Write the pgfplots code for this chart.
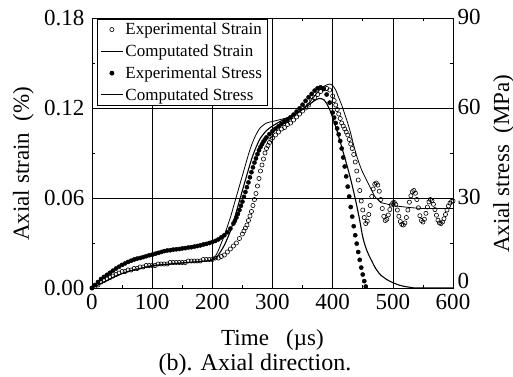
\documentclass[border=0pt]{standalone}
\usepackage{pgfplots}
\pgfplotsset{compat=1.18}
\usepackage{fontspec}
\setmainfont{Liberation Serif}

\begin{document}
\begin{tikzpicture}
\useasboundingbox (-92pt,-88pt) rectangle (421pt,288pt);
\begin{axis}[
  at={(0pt,0pt)}, anchor=south west,
  width=361pt, height=270pt, scale only axis,
  xmin=0, xmax=600, ymin=0, ymax=0.18,
  xtick={0,100,...,600}, ytick={0,0.06,0.12,0.18},
  minor x tick num=1, minor y tick num=1,
  tick align=inside,
  yticklabel pos=left,
  major tick length=5pt, minor tick length=3pt,
  grid=major, major grid style={black, line width=0.5pt},
  axis line style={line width=0.8pt},
  every tick/.style={black, line width=0.6pt},
  /pgf/number format/assume math mode=true,
  yticklabel style={/pgf/number format/.cd, fixed, fixed zerofill, precision=2, /tikz/.cd, xshift=-4pt},
  xticklabel style={yshift=-3pt},
  tick label style={font=\fontsize{23}{24}\selectfont},
  xlabel={Time\ \ \ (µs)},
  ylabel={Axial strain\ \ (\%)},
  label style={font=\fontsize{23}{25}\selectfont},
  xlabel style={at={(axis description cs:0.5,-0.193)}, anchor=center},
  ylabel style={at={(axis description cs:-0.19,0.46)}, anchor=center},
]
% Experimental strain (open circles)
\addplot[only marks, mark=o, mark size=2.1pt, mark options={line width=0.6pt, fill=white}] coordinates {
(0,0.000)(5,0.001)(10,0.002)(15,0.004)(20,0.005)(25,0.006)(30,0.007)(35,0.008)(40,0.009)(45,0.010)
(50,0.011)(55,0.011)(60,0.012)(65,0.012)(70,0.013)(75,0.013)(80,0.014)(85,0.014)(90,0.015)(95,0.015)
(100,0.015)(105,0.015)(110,0.016)(115,0.016)(120,0.016)(125,0.016)(130,0.017)(135,0.017)(140,0.017)(145,0.017)
(150,0.017)(155,0.017)(160,0.018)(165,0.018)(170,0.018)(175,0.018)(180,0.018)(185,0.019)(190,0.019)(195,0.019)
(200,0.019)(205,0.020)(210,0.020)(215,0.021)(220,0.022)(225,0.024)(230,0.026)(235,0.028)(240,0.030)(245,0.033)
(250,0.036)(252.5,0.038)(255,0.040)(257.5,0.042)(260,0.045)(262.5,0.048)(265,0.051)(267.5,0.055)(270,0.059)
(272.5,0.063)(275,0.068)(277.5,0.073)(280,0.078)(282.5,0.082)(285,0.086)(287.5,0.090)(290,0.093)(292.5,0.095)
(295,0.097)(297.5,0.099)(300,0.100)(305,0.102)(310,0.104)(315,0.106)(320,0.107)(325,0.109)(330,0.110)
(335,0.112)(340,0.114)(345,0.116)(350,0.118)(355,0.120)(360,0.122)(365,0.125)(370,0.127)(375,0.129)
(380,0.131)(385,0.133)(390,0.133)(395,0.132)(400,0.128)(402.5,0.125)(405,0.122)(407.5,0.119)(410,0.116)
(412.5,0.113)(415,0.110)(417.5,0.108)(420,0.106)(422.5,0.104)(425,0.102)(427.5,0.099)(430,0.096)(432.5,0.093)
(435,0.089)(437.5,0.084)(440,0.078)(442.5,0.072)(445,0.065)(447.5,0.058)(450,0.052)(452.5,0.047)
(455,0.0430)(457.5,0.0445)(460,0.0490)(462.5,0.0550)(465,0.0610)(467.5,0.0660)(470,0.0692)(472.5,0.0700)
(475,0.0686)(477.5,0.0645)(480,0.0590)(482.5,0.0530)(485,0.0478)(487.5,0.0450)(490,0.0458)(492.5,0.0487)
(495,0.0523)(497.5,0.0553)(500,0.0568)(502.5,0.0570)(505,0.0556)(507.5,0.0520)(510,0.0478)(512.5,0.0443)
(515,0.0424)(517.5,0.0420)(520,0.0434)(522.5,0.0470)(525,0.0520)(527.5,0.0572)(530,0.0615)(532.5,0.0642)
(535,0.0650)(537.5,0.0632)(540,0.0590)(542.5,0.0535)(545,0.0482)(547.5,0.0450)(550,0.0440)(552.5,0.0458)
(555,0.0498)(557.5,0.0540)(560,0.0574)(562.5,0.0590)(565,0.0582)(567.5,0.0558)(570,0.0523)(572.5,0.0485)
(575,0.0452)(577.5,0.0434)(580,0.0430)(582.5,0.0440)(585,0.0462)(587.5,0.0490)(590,0.0520)(592.5,0.0547)
(595,0.0566)(597.5,0.0577)(600,0.0580)
};
% Computated strain (thin line)
\addplot[black, line width=0.8pt, smooth, tension=0.4] coordinates {
(0,0.000)(20,0.004)(40,0.008)(60,0.011)(80,0.013)(100,0.015)(130,0.016)(160,0.017)(190,0.018)(200,0.019)
(205,0.021)(210,0.025)(215,0.030)(220,0.035)(225,0.041)(230,0.047)(235,0.054)(240,0.061)(245,0.068)
(250,0.075)(255,0.082)(260,0.089)(265,0.095)(270,0.100)(275,0.104)(280,0.107)(290,0.110)(300,0.111)
(310,0.112)(320,0.113)(330,0.114)(340,0.116)(350,0.119)(360,0.123)(370,0.128)(380,0.133)(388,0.135)
(395,0.136)(400,0.135)(405,0.132)(410,0.127)(415,0.122)(420,0.116)(425,0.110)(430,0.103)(435,0.095)
(440,0.088)(445,0.082)(450,0.077)(455,0.073)(460,0.069)(465,0.065)(470,0.061)(475,0.059)(480,0.057)
(490,0.056)(500,0.055)(520,0.054)(550,0.053)(600,0.053)
};
\end{axis}
\begin{axis}[
  at={(0pt,0pt)}, anchor=south west,
  width=361pt, height=270pt, scale only axis,
  xmin=0, xmax=600, ymin=0, ymax=90,
  axis x line=none, axis y line*=right,
  ytick={30,60,90}, minor y tick num=1,
  extra y ticks={0}, extra y tick labels={0},
  extra y tick style={yticklabel style={yshift=6pt}},
  tick align=inside,
  major tick length=5pt, minor tick length=3pt,
  axis line style={line width=0.8pt},
  every tick/.style={black, line width=0.6pt},
  /pgf/number format/assume math mode=true,
  tick label style={font=\fontsize{23}{24}\selectfont},
  yticklabel style={xshift=1pt, yshift=1pt},
  ylabel={Axial stress\ \ (MPa)},
  label style={font=\fontsize{23}{25}\selectfont},
  ylabel style={at={(axis description cs:1.14,0.46)}, anchor=center, rotate=0},
  legend style={at={(axis description cs:0.014,0.996)}, anchor=north west,
    draw=black, line width=0.6pt, font=\fontsize{17}{19}\selectfont,
    inner xsep=3pt, inner ysep=1.5pt, row sep=4.5pt, cells={anchor=west}},
  legend image code/.code={\draw[mark repeat=2,mark phase=2,#1] plot coordinates {(0pt,0pt) (11pt,0pt) (22pt,0pt)};},
]
\addlegendimage{only marks, mark=o, mark size=2.1pt, mark options={line width=0.6pt, fill=white}}
\addlegendentry{Experimental Strain}
\addlegendimage{black, line width=0.8pt}
\addlegendentry{Computated Strain}
% Experimental stress (filled dots), MPa
\addplot[only marks, mark=*, mark size=2.1pt] coordinates {
(0,0)(5,1.0)(10,2.0)(15,3.0)(20,3.7)(25,4.4)(30,5.1)(35,5.8)(40,6.5)(45,7.1)(50,7.7)(55,8.2)(60,8.7)
(65,9.1)(70,9.5)(75,9.8)(80,10.0)(85,10.3)(90,10.6)(95,10.9)(100,11.1)(105,11.4)(110,11.7)(115,12.0)
(120,12.3)(125,12.5)(130,12.6)(135,12.8)(140,12.9)(145,13.0)(150,13.2)(155,13.3)(160,13.5)(165,13.6)
(170,13.8)(175,14.0)(180,14.2)(185,14.5)(190,14.7)(195,15.0)(200,15.3)(205,15.7)(210,16.2)(215,16.9)
(220,17.6)(225,18.6)(230,19.8)(235,21.5)(237.5,22.4)(240,23.5)(242.5,24.7)(245,26.0)(247.5,27.4)(250,28.8)
(252.5,30.4)(255,32.0)(257.5,33.6)(260,35.2)(262.5,36.9)(265,38.6)(267.5,40.2)(270,41.8)(272.5,43.2)
(275,44.6)(277.5,45.9)(280,47.0)(282.5,47.9)(285,48.8)(287.5,49.5)(290,50.2)(295,51.3)(300,52.3)
(305,53.1)(310,53.9)(315,54.7)(320,55.4)(325,56.1)(330,56.9)(335,57.8)(340,58.8)(345,59.9)(350,61.1)
(355,62.4)(360,63.6)(365,64.7)(370,65.8)(375,66.6)(380,66.9)(385,66.3)(390,64.5)(395,61.8)(400,58.5)
(402.5,56.8)(405,55.0)(407.5,53.2)(410,51.2)(412.5,49.0)(415,46.5)(417.5,43.5)(420,40.5)(422.5,37.2)
(425,33.8)(427.5,30.5)(430,27.0)(432.5,23.8)(435,20.6)(437.5,17.6)(440,14.8)(442.5,12.0)(445,9.4)
(447.5,6.8)(450,4.5)(452.5,2.3)(455,0.5)
};
\addlegendentry{Experimental Stress}
% Computated stress (line), MPa
\addplot[black, line width=1.1pt, smooth, tension=0.4] coordinates {
(0,0)(20,2.0)(40,4.0)(60,5.5)(80,6.5)(100,7.3)(130,8.0)(160,8.5)(190,9.0)(200,9.3)(205,9.8)(210,11.0)
(215,12.5)(220,14.3)(225,16.5)(230,19.0)(235,22.0)(240,25.5)(245,29.0)(250,32.5)(255,36.0)(260,39.5)
(265,42.8)(270,45.6)(275,48.0)(280,50.0)(290,52.5)(300,54.0)(310,55.2)(320,56.3)(330,57.3)(340,58.3)
(350,59.6)(360,61.0)(370,62.5)(378,63.2)(385,62.8)(390,61.5)(395,59.5)(400,56.8)(405,53.8)(410,50.5)
(415,47.0)(420,43.5)(425,40.0)(430,36.2)(435,32.0)(440,27.5)(445,22.5)(450,17.0)(455,13.5)(460,11.0)
(465,9.0)(470,7.0)(475,5.5)(480,4.3)(490,2.8)(500,1.8)(510,1.0)(520,0.5)(530,0.2)(540,0.0)(600,0.0)
};
\addlegendentry{Computated Stress}
\end{axis}
\node[font=\fontsize{24}{26}\selectfont] at (163pt,-77pt) {(b). Axial direction.};
\end{tikzpicture}
\end{document}
